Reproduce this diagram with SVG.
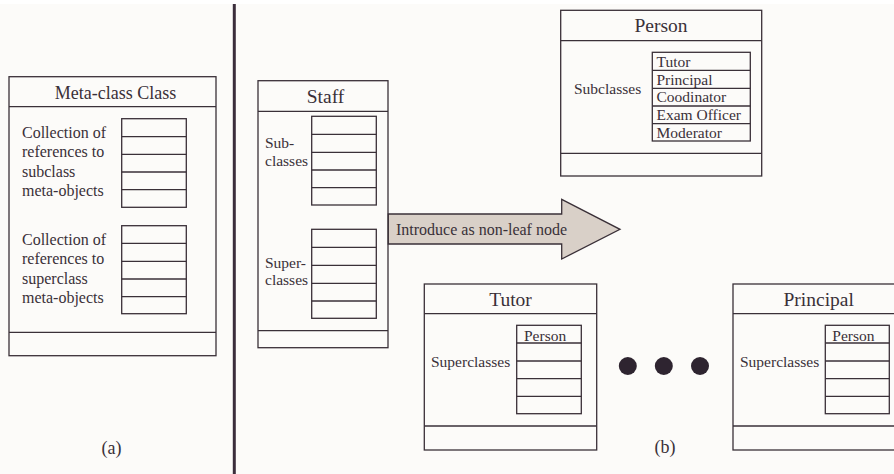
<svg xmlns="http://www.w3.org/2000/svg" width="894" height="474" viewBox="0 0 894 474">
<style>
.bx{fill:none;stroke:#3a3038;stroke-width:1.3}
.ln{stroke:#3a3038;stroke-width:1.3}
text{font-family:"Liberation Serif","Times New Roman",serif;fill:#3a3038}
.t{font-size:19.5px;text-anchor:middle}
.s{font-size:15.5px}
.c{font-size:18px;text-anchor:middle}
</style>
<rect x="0" y="0" width="894" height="474" fill="#fcfbf9"/>
<rect x="0" y="0" width="894" height="4" fill="#ffffff"/>
<line x1="234.3" y1="4" x2="234.3" y2="474" stroke="#3b2e3b" stroke-width="3"/>

<g id="metaclass">
<rect class="bx" x="9" y="76.7" width="207" height="279"/>
<line class="ln" x1="9" y1="106.7" x2="216" y2="106.7"/>
<line class="ln" x1="9" y1="332.3" x2="216" y2="332.3"/>
<text x="115.5" y="98.5" style="font-size:18px;text-anchor:middle">Meta-class Class</text>
<rect class="bx" x="121.7" y="118.7" width="64.6" height="88.6"/>
<path class="ln" d="M121.7 136.7H186.3M121.7 154.3H186.3M121.7 172H186.3M121.7 189.7H186.3"/>
<rect class="bx" x="121.7" y="225.7" width="64.6" height="88"/>
<path class="ln" d="M121.7 243.3H186.3M121.7 261.3H186.3M121.7 279H186.3M121.7 296.7H186.3"/>
<text class="s" x="22" y="137.5" style="font-size:16px">Collection of</text>
<text class="s" x="22" y="157" style="font-size:16px">references to</text>
<text class="s" x="22" y="176.5" style="font-size:16px">subclass</text>
<text class="s" x="22" y="196" style="font-size:16px">meta-objects</text>
<text class="s" x="22" y="244.5" style="font-size:16px">Collection of</text>
<text class="s" x="22" y="264" style="font-size:16px">references to</text>
<text class="s" x="22" y="283.5" style="font-size:16px">superclass</text>
<text class="s" x="22" y="303" style="font-size:16px">meta-objects</text>
</g>
<text class="c" x="111.5" y="454">(a)</text>

<g id="staff">
<rect class="bx" x="258" y="80.7" width="130" height="267"/>
<line class="ln" x1="258" y1="111.3" x2="388" y2="111.3"/>
<line class="ln" x1="258" y1="330.7" x2="388" y2="330.7"/>
<text class="t" x="325.5" y="102.5">Staff</text>
<rect class="bx" x="311.7" y="116.3" width="64.6" height="88.7"/>
<path class="ln" d="M311.7 134.3H376.3M311.7 152.3H376.3M311.7 170H376.3M311.7 187.7H376.3"/>
<rect class="bx" x="311.7" y="229.3" width="64.6" height="89"/>
<path class="ln" d="M311.7 247.3H376.3M311.7 265.3H376.3M311.7 283.3H376.3M311.7 301H376.3"/>
<text class="s" x="265" y="147.5">Sub-</text>
<text class="s" x="265" y="165.5">classes</text>
<text class="s" x="265" y="267.5">Super-</text>
<text class="s" x="265" y="285">classes</text>
</g>

<g id="arrow">
<path d="M388.3 214H561.7V199.3L620 229.3L561.7 259V244H388.3Z" fill="#d9d0c8" stroke="#3a3038" stroke-width="1.3"/>
<text x="396" y="235" style="font-size:16px">Introduce as non-leaf node</text>
</g>

<g id="person">
<rect class="bx" x="560.7" y="10.3" width="201" height="165.7"/>
<line class="ln" x1="560.7" y1="40.7" x2="761.7" y2="40.7"/>
<line class="ln" x1="560.7" y1="153.3" x2="761.7" y2="153.3"/>
<text class="t" x="661" y="32">Person</text>
<rect class="bx" x="652.3" y="52.3" width="98" height="88.7"/>
<path class="ln" d="M652.3 70.3H750.3M652.3 88.3H750.3M652.3 106H750.3M652.3 123.7H750.3"/>
<text class="s" x="574" y="94">Subclasses</text>
<text class="s" x="656.5" y="66.5">Tutor</text>
<text class="s" x="656.5" y="84.5">Principal</text>
<text class="s" x="656.5" y="102">Coodinator</text>
<text class="s" x="656.5" y="120">Exam Officer</text>
<text class="s" x="656.5" y="137.5">Moderator</text>
</g>

<g id="tutor">
<rect class="bx" x="424.3" y="284" width="172.4" height="166"/>
<line class="ln" x1="424.3" y1="313.7" x2="596.7" y2="313.7"/>
<line class="ln" x1="424.3" y1="426" x2="596.7" y2="426"/>
<text class="t" x="510.5" y="305.5">Tutor</text>
<rect class="bx" x="516.7" y="325.3" width="64.6" height="88.4"/>
<path class="ln" d="M516.7 343H581.3M516.7 361H581.3M516.7 378.7H581.3M516.7 396.3H581.3"/>
<text class="s" x="524" y="340.5">Person</text>
<text class="s" x="431" y="367">Superclasses</text>
</g>

<g id="dots" fill="#2e2430">
<circle cx="627.8" cy="366" r="9"/>
<circle cx="663.8" cy="366" r="9"/>
<circle cx="700" cy="366" r="9"/>
</g>
<text class="c" x="665" y="452.5">(b)</text>

<g id="principal">
<rect class="bx" x="733" y="284" width="172" height="166"/>
<line class="ln" x1="733" y1="313.7" x2="905" y2="313.7"/>
<line class="ln" x1="733" y1="426" x2="905" y2="426"/>
<text class="t" x="818.7" y="305.5">Principal</text>
<rect class="bx" x="825.3" y="325.3" width="64" height="88.4"/>
<path class="ln" d="M825.3 343H889.3M825.3 361H889.3M825.3 378.7H889.3M825.3 396.3H889.3"/>
<text class="s" x="832.3" y="340.5">Person</text>
<text class="s" x="740" y="367">Superclasses</text>
</g>
<g id="connectors"></g>
</svg>
